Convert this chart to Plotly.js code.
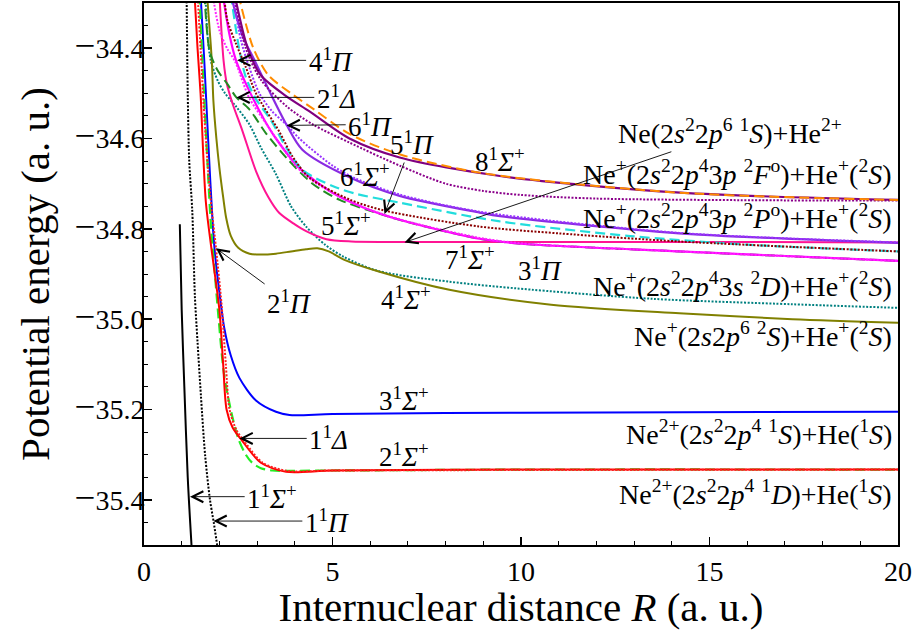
<!DOCTYPE html>
<html>
<head>
<meta charset="utf-8">
<script src="https://cdn.plot.ly/plotly-3.0.1.min.js"></script>
<style>html,body{margin:0;padding:0;background:#fff;}#chart{width:917px;height:630px;}</style>
</head>
<body>
<div id="chart"></div>
<script>
// ---- Data: internuclear distance R (a.u.) and potential energy (a.u.) for each state ----
const R_1S = [0.95, 1.0, 1.07, 1.16, 1.26];
const E_1S = [-34.79, -34.98, -35.15, -35.35, -35.5];

const R_1P = [1.13, 1.16, 1.2, 1.28, 1.35, 1.42, 1.51, 1.62, 1.75, 1.85, 1.94];
const E_1P = [-34.28, -34.5, -34.65, -34.76, -34.95, -35.05, -35.17, -35.3, -35.4, -35.45, -35.5];

const R_2S = [1.34, 1.42, 1.5, 1.64, 1.83, 2.0, 2.1, 2.19, 2.35, 2.61, 3.1, 3.77, 5, 10, 20];
const E_2S = [-34.28, -34.4, -34.5, -34.74, -34.87, -34.98, -35.1, -35.2, -35.24, -35.27, -35.318, -35.338, -35.335, -35.333, -35.333];

const R_2P = [1.42, 1.5, 1.6, 1.75, 1.91, 2.06, 2.17, 2.27, 2.45, 2.7, 3.15, 3.8, 5, 20];
const E_2P = [-34.28, -34.4, -34.55, -34.72, -34.843, -34.97, -35.1, -35.2, -35.245, -35.275, -35.318, -35.336, -35.335, -35.333];

const R_1D = [1.47, 1.55, 1.65, 1.78, 1.86, 1.98, 2.12, 2.3, 2.5, 2.7, 2.87, 3.1, 3.4, 5, 10, 20];
const E_1D = [-34.28, -34.43, -34.6, -34.8, -34.88, -35.0, -35.12, -35.2, -35.264, -35.3, -35.318, -35.33, -35.335, -35.335, -35.333, -35.333];

const R_3S = [1.5, 1.6, 1.7, 1.83, 1.9, 2.0, 2.13, 2.3, 2.53, 2.97, 3.5, 3.86, 5, 10, 20];
const E_3S = [-34.28, -34.43, -34.6, -34.8, -34.87, -34.94, -35.02, -35.08, -35.13, -35.18, -35.205, -35.212, -35.21, -35.207, -35.205];

const R_4S = [1.67, 1.8, 1.84, 1.92, 2.0, 2.1, 2.18, 2.3, 2.5, 2.8, 3.06, 3.5, 3.9, 4.3, 4.6, 4.9, 5.3, 6.25, 8.1, 10.8, 14.2, 17.2, 20];
const E_4S = [-34.28, -34.43, -34.516, -34.6, -34.665, -34.73, -34.776, -34.815, -34.842, -34.855, -34.857, -34.855, -34.85, -34.845, -34.843, -34.85, -34.868, -34.895, -34.935, -34.968, -34.987, -35.0, -35.008];

const R_3P = [1.63, 1.68, 1.77, 1.95, 2.15, 2.45, 2.79, 3.1, 3.5, 3.9, 4.3, 4.8, 5.3, 6.2, 8.1, 9.9, 13.5, 17.2, 20];
const E_3P = [-34.28, -34.367, -34.427, -34.471, -34.5, -34.53, -34.568, -34.62, -34.679, -34.75, -34.795, -34.835, -34.862, -34.893, -34.917, -34.932, -34.955, -34.967, -34.975];

const R_7S = [2.0, 2.11, 2.2, 2.35, 2.61, 2.97, 3.3, 3.59, 4.0, 4.3, 4.84, 5.5, 6.5, 10, 15, 20];
const E_7S = [-34.28, -34.427, -34.48, -34.523, -34.583, -34.672, -34.73, -34.765, -34.79, -34.805, -34.823, -34.828, -34.829, -34.829, -34.829, -34.83];

const R_2D = [1.6, 1.68, 1.75, 1.95, 2.2, 2.45, 2.79, 3.24, 3.78, 4.47, 5.19, 6.0, 7.0, 8.9, 10, 14.2, 20];
const E_2D = [-34.28, -34.37, -34.41, -34.449, -34.478, -34.509, -34.535, -34.589, -34.643, -34.7, -34.736, -34.76, -34.785, -34.822, -34.833, -34.85, -34.871];

const R_5S = [2.09, 2.26, 2.44, 2.79, 3.2, 3.5, 4.12, 5.0, 5.8, 6.78, 8.9, 10, 14.2, 20];
const E_5S = [-34.28, -34.367, -34.427, -34.494, -34.56, -34.6, -34.665, -34.72, -34.752, -34.78, -34.822, -34.833, -34.85, -34.871];

const R_4P = [1.82, 2.0, 2.2, 2.42, 2.79, 3.24, 3.67, 4.04, 4.5, 5.0, 6.0, 7.0, 8.9, 10, 14.2, 20];
const E_4P = [-34.28, -34.36, -34.4, -34.43, -34.51, -34.567, -34.62, -34.662, -34.695, -34.72, -34.758, -34.784, -34.82, -34.832, -34.85, -34.871];

const R_3D = [2.3, 2.53, 2.7, 2.95, 3.37, 3.77, 4.21, 5.0, 5.6, 6.78, 9.4, 12.9, 16, 20];
const E_3D = [-34.28, -34.404, -34.464, -34.51, -34.56, -34.62, -34.67, -34.705, -34.722, -34.742, -34.783, -34.816, -34.835, -34.85];

const R_5P = [2.12, 2.21, 2.44, 2.7, 2.97, 3.59, 3.94, 4.39, 5.45, 6.4, 8.9, 11, 14.2, 20];
const E_5P = [-34.28, -34.338, -34.39, -34.442, -34.5, -34.585, -34.64, -34.687, -34.735, -34.76, -34.795, -34.81, -34.828, -34.85];

const R_6S = [2.3, 2.6, 2.95, 3.32, 3.77, 4.2, 5.45, 6.78, 8.9, 9.44, 14.2, 20];
const E_6S = [-34.28, -34.37, -34.43, -34.494, -34.568, -34.625, -34.686, -34.727, -34.764, -34.772, -34.81, -34.831];

const R_6P = [2.35, 2.57, 2.79, 3.06, 3.4, 3.8, 4.12, 5.0, 5.6, 6.78, 8.9, 14.2, 20];
const E_6P = [-34.28, -34.382, -34.442, -34.5, -34.54, -34.571, -34.6, -34.66, -34.688, -34.724, -34.762, -34.809, -34.83];

const R_7P = [2.38, 2.7, 3.1, 3.8, 4.5, 5.45, 6.78, 8, 9, 10, 12, 17, 20];
const E_7P = [-34.28, -34.4, -34.47, -34.53, -34.57, -34.609, -34.66, -34.7, -34.716, -34.725, -34.733, -34.737, -34.737];

const R_8S = [2.4, 2.75, 3.1, 3.75, 4.39, 5.45, 6.78, 9.44, 14.23, 20];
const E_8S = [-34.28, -34.4, -34.46, -34.505, -34.54, -34.6, -34.642, -34.683, -34.72, -34.736];

const R_4D = [2.5, 2.9, 3.3, 3.9, 4.5, 5.45, 6.78, 9.0, 14.2, 20];
const E_4D = [-34.28, -34.4, -34.46, -34.5, -34.535, -34.59, -34.635, -34.677, -34.72, -34.736];

// Tick values and labels
const xTicks = [0, 5, 10, 15, 20];
const yTicks = [-35.4, -35.2, -35.0, -34.8, -34.6, -34.4];
const yTickNum = ['35.4', '35.2', '35.0', '34.8', '34.6', '34.4'];

// ---- Styling ----
const MINUS = '<span style="font-size:37px">\u2212</span>';
const yTickText = yTickNum.map(t => MINUS + t);
const DOT = '2px,1.6px';
const DASH = '10px,5px';
function tr(x, y, color, dash, w) {
  return {type: 'scatter', mode: 'lines', x: x, y: y, hoverinfo: 'skip',
    line: {color: color, width: w || 2, dash: dash || 'solid', shape: 'spline', smoothing: 0.8}};
}
const traces = [
  tr(R_1S, E_1S, '#000000', 'solid', 2),
  tr(R_1P, E_1P, '#000000', DOT, 2),
  tr(R_3P, E_3P, '#008080', DOT, 2),
  tr(R_4S, E_4S, '#808000', 'solid', 2),
  tr(R_3S, E_3S, '#0000ff', 'solid', 2),
  tr(R_1D, E_1D, '#22ee22', DASH, 2.2),
  tr(R_2S, E_2S, '#ff0000', 'solid', 2),
  tr(R_2P, E_2P, '#ff2020', DOT, 2),
  tr(R_7S, E_7S, '#ff1493', 'solid', 2),
  tr(R_2D, E_2D, '#228b22', DASH, 2),
  tr(R_5S, E_5S, '#ff00ff', 'solid', 2.2),
  tr(R_4P, E_4P, '#ff22ff', DOT, 2),
  tr(R_3D, E_3D, '#22dddd', DASH, 2.2),
  tr(R_5P, E_5P, '#8b0000', DOT, 2),
  tr(R_6S, E_6S, '#8a2be2', 'solid', 2.2),
  tr(R_6P, E_6P, '#9933ff', DOT, 2),
  tr(R_7P, E_7P, '#8b008b', DOT, 2),
  tr(R_8S, E_8S, '#800080', 'solid', 2.2),
  tr(R_4D, E_4D, '#ff8c00', DASH, 2)
];

const FONT = 'Liberation Serif, Times New Roman, serif';
const LS = 27;   // state label size
const AS = 28;   // asymptote label size
function lab(text, x, y, opts) {
  return Object.assign({text: text, x: x, y: y, xref: 'x', yref: 'y', showarrow: false,
    font: {family: FONT, size: LS, color: '#000'}}, opts || {});
}
function arr(text, tipX, tipY, txtX, txtY, size) {
  return {text: text, x: tipX, y: tipY, ax: txtX, ay: txtY, xref: 'x', yref: 'y', axref: 'x', ayref: 'y',
    showarrow: true, arrowhead: 5, arrowsize: 2.4, arrowwidth: 0.9, arrowcolor: '#000', standoff: 0,
    borderpad: 2, font: {family: FONT, size: size || LS, color: '#000'}};
}
const S = '<sup>1</sup><i>Σ</i><sup>+</sup>';
const P = '<sup>1</sup><i>Π</i>';
const D = '<sup>1</sup><i>Δ</i>';
const AF = {family: FONT, size: AS, color: '#000'};
const annotations = [
  arr('4' + P, 2.47, -34.427, 4.95, -34.427),
  arr('2' + D, 2.45, -34.509, 5.1, -34.509),
  arr('6' + P, 3.78, -34.571, 6.0, -34.569),
  arr('5' + P, 6.38, -34.767, 7.1, -34.61),
  arr('1' + D, 2.53, -35.264, 4.9, -35.264),
  arr('2' + P, 1.91, -34.843, 3.85, -34.962),
  arr('1' + S, 1.22, -35.393, 3.4, -35.393),
  arr('1' + P, 1.84, -35.447, 4.85, -35.447),
  arr('Ne(2<i>s</i><sup>2</sup>2<i>p</i><sup>6</sup> <sup>1</sup><i>S</i>)+He<sup>2+</sup>', 6.91, -34.83, 15.55, -34.585, AS),
  lab('8' + S, 9.45, -34.648),
  lab('6' + S, 5.85, -34.68),
  lab('5' + S, 5.37, -34.79),
  lab('7' + S, 8.65, -34.864),
  lab('3' + P, 10.5, -34.888),
  lab('4' + S, 6.95, -34.953),
  lab('3' + S, 6.9, -35.176),
  lab('2' + S, 6.9, -35.3),
  lab('Ne<sup>+</sup>(2<i>s</i><sup>2</sup>2<i>p</i><sup>4</sup>3<i>p</i> <sup>2</sup><i>F</i><sup>o</sup>)+He<sup>+</sup>(<sup>2</sup><i>S</i>)', 19.9, -34.676, {xanchor: 'right', font: AF}),
  lab('Ne<sup>+</sup>(2<i>s</i><sup>2</sup>2<i>p</i><sup>4</sup>3<i>p</i> <sup>2</sup><i>P</i><sup>o</sup>)+He<sup>+</sup>(<sup>2</sup><i>S</i>)', 19.9, -34.772, {xanchor: 'right', font: AF}),
  lab('Ne<sup>+</sup>(2<i>s</i><sup>2</sup>2<i>p</i><sup>4</sup>3<i>s</i> <sup>2</sup><i>D</i>)+He<sup>+</sup>(<sup>2</sup><i>S</i>)', 19.9, -34.923, {xanchor: 'right', font: AF}),
  lab('Ne<sup>+</sup>(2<i>s</i>2<i>p</i><sup>6</sup> <sup>2</sup><i>S</i>)+He<sup>+</sup>(<sup>2</sup><i>S</i>)', 19.9, -35.035, {xanchor: 'right', font: AF}),
  lab('Ne<sup>2+</sup>(2<i>s</i><sup>2</sup>2<i>p</i><sup>4</sup> <sup>1</sup><i>S</i>)+He(<sup>1</sup><i>S</i>)', 19.9, -35.251, {xanchor: 'right', font: AF}),
  lab('Ne<sup>2+</sup>(2<i>s</i><sup>2</sup>2<i>p</i><sup>4</sup> <sup>1</sup><i>D</i>)+He(<sup>1</sup><i>S</i>)', 19.9, -35.384, {xanchor: 'right', font: AF})
];

const layout = {
  width: 917, height: 630,
  margin: {l: 144, r: 19, t: 3, b: 85},
  paper_bgcolor: '#fff', plot_bgcolor: '#fff',
  showlegend: false,
  font: {family: FONT, color: '#000'},
  xaxis: {
    range: [0, 20], tickmode: 'array', tickvals: xTicks,
    ticks: 'inside', ticklen: 8, tickwidth: 1.5, tickcolor: '#000',
    showline: true, linewidth: 2, linecolor: '#000', mirror: true,
    showgrid: false, zeroline: false,
    minor: {dtick: 1, tick0: 0, ticks: 'inside', ticklen: 4, tickwidth: 1, tickcolor: '#000', showgrid: false},
    tickfont: {family: FONT, size: 28, color: '#000'},
    title: {text: 'Internuclear distance <i>R</i> (a. u.)', font: {family: FONT, size: 41, color: '#000'}, standoff: 8}
  },
  yaxis: {
    range: [-35.5, -34.3], tickmode: 'array', tickvals: yTicks, ticktext: yTickText,
    ticks: 'inside', ticklen: 8, tickwidth: 1.5, tickcolor: '#000',
    showline: true, linewidth: 2, linecolor: '#000', mirror: true,
    showgrid: false, zeroline: false, ticklabelstandoff: -8,
    minor: {tickvals: [-35.45, -35.35, -35.3, -35.25, -35.15, -35.1, -35.05, -34.95, -34.9, -34.85, -34.75, -34.7, -34.65, -34.55, -34.5, -34.45, -34.35],
            ticks: 'inside', ticklen: 4, tickwidth: 1, tickcolor: '#000', showgrid: false},
    tickfont: {family: FONT, size: 28, color: '#000'},
    title: {text: 'Potential energy (a. u.)', font: {family: FONT, size: 41, color: '#000'}, standoff: 12}
  },
  annotations: annotations
};

Plotly.newPlot('chart', traces, layout, {staticPlot: true, displayModeBar: false});
</script>
</body>
</html>
